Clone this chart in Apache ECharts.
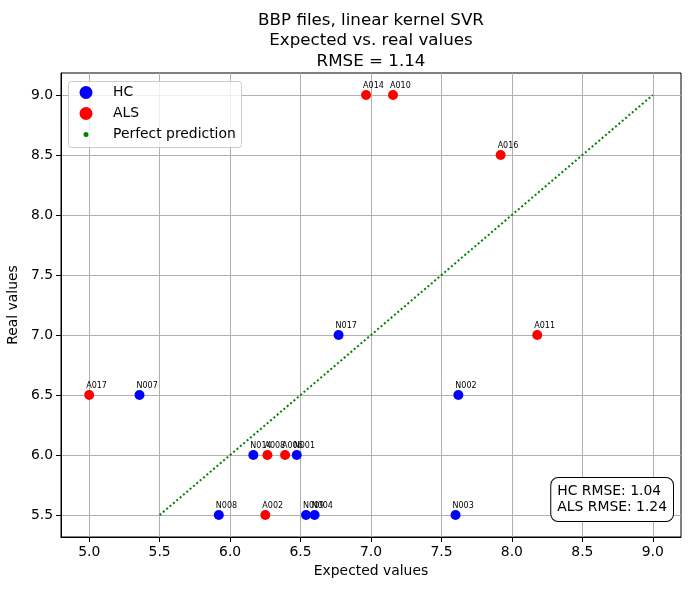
<!DOCTYPE html>
<html>
<head>
<meta charset="utf-8">
<script src="https://cdn.jsdelivr.net/npm/echarts@6.0.0/dist/echarts.min.js"></script>
<style>
  html, body { margin: 0; padding: 0; background: #fff; }
  #root { width: 691px; height: 589px; }
</style>
</head>
<body>
<div id="root"></div>
<script>
// HC samples: [expected, real, name]
const hcNames = ['N017', 'N007', 'N002', 'N014', 'N001', 'N008', 'N009', 'N004', 'N003']
const hcExpected = [6.77, 5.357, 7.62, 6.165, 6.473, 5.92, 6.539, 6.60, 7.60]
const hcReal = [7.0, 6.5, 6.5, 6.0, 6.0, 5.5, 5.5, 5.5, 5.5]

// ALS samples
const alsNames = ['A014', 'A010', 'A016', 'A011', 'A017', 'A008', 'A006', 'A002']
const alsExpected = [6.965, 7.156, 7.92, 8.18, 5.0, 6.265, 6.39, 6.25]
const alsReal = [9.0, 9.0, 8.5, 7.0, 6.5, 6.0, 6.0, 5.5]

// perfect prediction diagonal (endpoints)
const perfectLine = [[5.5, 5.5], [9.0, 9.0]]

// axis ticks
const xTicks = [5.0, 5.5, 6.0, 6.5, 7.0, 7.5, 8.0, 8.5, 9.0]
const yTicks = [5.5, 6.0, 6.5, 7.0, 7.5, 8.0, 8.5, 9.0]

const titleText = 'BBP files, linear kernel SVR\nExpected vs. real values\nRMSE = 1.14'
const rmseText = 'HC RMSE: 1.04\nALS RMSE: 1.24'

const FONT = 'DejaVu Sans'

function toPoints (xs, ys, names) {
  return xs.map((x, i) => ({ value: [x, ys[i]], name: names[i] }))
}

const pointLabel = {
  show: true,
  formatter: p => p.name,
  position: [2, 0],
  align: 'left',
  verticalAlign: 'bottom',
  fontFamily: FONT,
  fontSize: 8,
  color: '#000'
}

function axisCommon (ticks) {
  return {
    type: 'value',
    axisLine: { show: true, onZero: false, lineStyle: { color: '#000', width: 1 } },
    axisTick: { show: true, inside: false, length: 5, customValues: ticks, lineStyle: { color: '#000' } },
    axisLabel: {
      customValues: ticks,
      formatter: v => v.toFixed(1),
      fontFamily: FONT,
      fontSize: 13.9,
      color: '#000',
      margin: 8
    },
    splitLine: { show: true, lineStyle: { color: '#b0b0b0', width: 1 } },
    nameLocation: 'middle',
    nameTextStyle: { fontFamily: FONT, fontSize: 13.9, color: '#000' }
  }
}

// one legend per entry so each marker size can differ
function legendItem (name, left, top, size) {
  return {
    data: [{ name: name, icon: 'circle' }],
    orient: 'vertical',
    left: left,
    top: top,
    padding: 0,
    itemWidth: 44,
    itemHeight: size,
    selectedMode: false,
    textStyle: { fontFamily: FONT, fontSize: 13.9, color: '#000' }
  }
}

const myChart = echarts.init(document.getElementById('root'))

const option = {
  animation: false,
  backgroundColor: '#fff',
  title: {
    text: titleText,
    left: 366,
    top: 5,
    textAlign: 'center',
    textStyle: { fontFamily: FONT, fontSize: 16.7, fontWeight: 'normal', lineHeight: 20.5, color: '#000' }
  },
  grid: {
    left: 61, right: 10, top: 73, bottom: 52,
    outerBoundsMode: 'none',
    containLabel: false,
    show: true, borderColor: '#000', borderWidth: 1, backgroundColor: 'transparent'
  },
  xAxis: Object.assign(axisCommon(xTicks), {
    min: 4.8, max: 9.2, name: 'Expected values', nameGap: 27
  }),
  yAxis: Object.assign(axisCommon(yTicks), {
    min: 5.317, max: 9.183, name: 'Real values', nameGap: 37
  }),
  legend: [
    legendItem('HC', 79.5, 85.5, 13),
    legendItem('ALS', 79.5, 106.5, 13),
    legendItem('Perfect prediction', 83.5, 127.5, 5)
  ],
  series: [
    {
      name: 'HC',
      type: 'scatter',
      symbolSize: 10,
      itemStyle: { color: '#0000ff', opacity: 1 },
      label: pointLabel,
      data: toPoints(hcExpected, hcReal, hcNames),
      z: 3
    },
    {
      name: 'ALS',
      type: 'scatter',
      symbolSize: 10,
      itemStyle: { color: '#ff0000', opacity: 1 },
      label: pointLabel,
      data: toPoints(alsExpected, alsReal, alsNames),
      z: 3
    },
    {
      name: 'Perfect prediction',
      type: 'line',
      showSymbol: false,
      symbol: 'circle',
      itemStyle: { color: '#008000' },
      lineStyle: { color: '#008000', width: 2, type: [2, 2.4] },
      data: perfectLine,
      z: 2
    }
  ],
  graphic: [
    {
      // legend frame
      type: 'rect',
      left: 68, top: 81,
      shape: { width: 173, height: 66, r: 3 },
      style: { fill: 'rgba(255,255,255,0.8)', stroke: '#cccccc', lineWidth: 1 },
      z: 1
    },
    {
      type: 'text',
      right: 17,
      bottom: 67,
      style: {
        text: rmseText,
        align: 'right',
        fontFamily: FONT,
        fontSize: 13.9,
        lineHeight: 16.5,
        fill: '#000',
        backgroundColor: '#fff',
        borderColor: '#000',
        borderWidth: 1,
        borderRadius: 7,
        padding: [5, 6, 5, 6]
      },
      z: 10
    }
  ]
}

myChart.setOption(option)
window.addEventListener('resize', myChart.resize)
</script>
</body>
</html>
